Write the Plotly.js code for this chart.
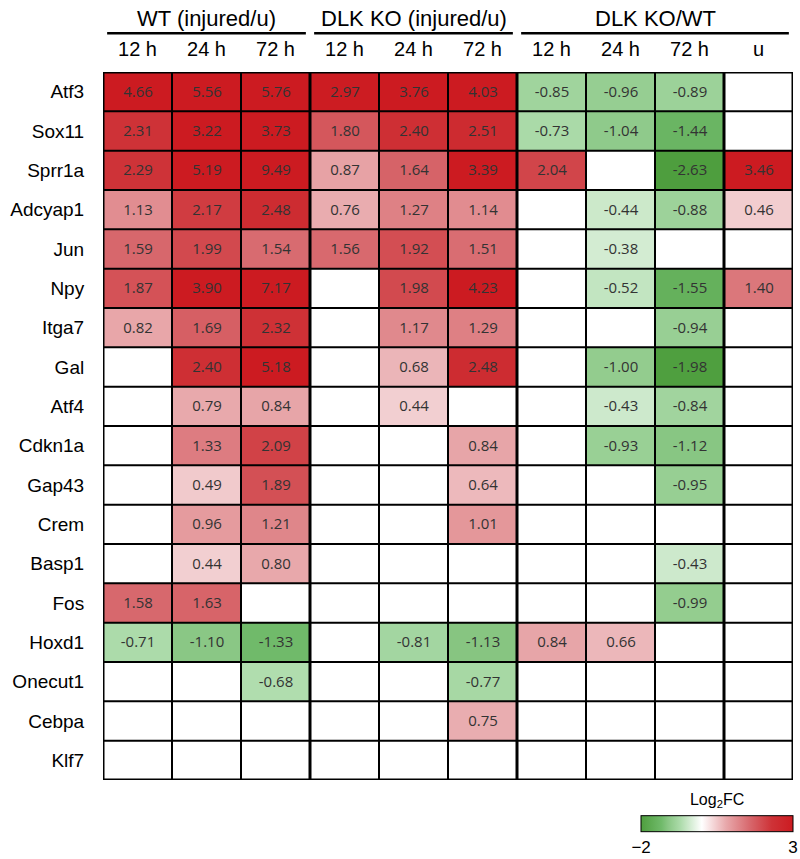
<!DOCTYPE html>
<html>
<head>
<meta charset="utf-8">
<script src="https://cdn.plot.ly/plotly-3.0.1.min.js"></script>
<style>body{margin:0;background:#fff}</style>
</head>
<body>
<div id="chart" style="width:800px;height:859px"></div>
<script>
var genes = ['Atf3','Sox11','Sprr1a','Adcyap1','Jun','Npy','Itga7','Gal','Atf4','Cdkn1a',
             'Gap43','Crem','Basp1','Fos','Hoxd1','Onecut1','Cebpa','Klf7'];
var timeLabels = ['12 h','24 h','72 h','12 h','24 h','72 h','12 h','24 h','72 h','u'];
var groupNames = ['WT (injured/u)','DLK KO (injured/u)','DLK KO/WT'];
var groupStart = [0, 3, 6];
var groupEnd = [2, 5, 9];

// log2 fold change, null = not significant (blank cell)
var wt = [
  [4.66,5.56,5.76],[2.31,3.22,3.73],[2.29,5.19,9.49],[1.13,2.17,2.48],[1.59,1.99,1.54],
  [1.87,3.90,7.17],[0.82,1.69,2.32],[null,2.40,5.18],[null,0.79,0.84],[null,1.33,2.09],
  [null,0.49,1.89],[null,0.96,1.21],[null,0.44,0.80],[1.58,1.63,null],[-0.71,-1.10,-1.33],
  [null,null,-0.68],[null,null,null],[null,null,null]
];
var ko = [
  [2.97,3.76,4.03],[1.80,2.40,2.51],[0.87,1.64,3.39],[0.76,1.27,1.14],[1.56,1.92,1.51],
  [null,1.98,4.23],[null,1.17,1.29],[null,0.68,2.48],[null,0.44,null],[null,null,0.84],
  [null,null,0.64],[null,null,1.01],[null,null,null],[null,null,null],[null,-0.81,-1.13],
  [null,null,-0.77],[null,null,0.75],[null,null,null]
];
var koVsWt = [
  [-0.85,-0.96,-0.89,null],[-0.73,-1.04,-1.44,null],[2.04,null,-2.63,3.46],[null,-0.44,-0.88,0.46],
  [null,-0.38,null,null],[null,-0.52,-1.55,1.40],[null,null,-0.94,null],[null,-1.00,-1.98,null],
  [null,-0.43,-0.84,null],[null,-0.93,-1.12,null],[null,null,-0.95,null],[null,null,null,null],
  [null,null,-0.43,null],[null,null,-0.99,null],[0.84,0.66,null,null],[null,null,null,null],
  [null,null,null,null],[null,null,null,null]
];

var z = genes.map(function(g, i){ return wt[i].concat(ko[i], koVsWt[i]); });
var txt = z.map(function(r){ return r.map(function(v){ return v === null ? '' : v.toFixed(2); }); });
var xs = timeLabels.map(function(t, i){ return i; });
var ys = genes.map(function(g, i){ return i; });

var trace = {
  type: 'heatmap',
  x: xs, y: ys, z: z,
  text: txt,
  texttemplate: '%{text}',
  textfont: {family: 'Open Sans, Noto Sans, sans-serif', size: 15, color: '#333'},
  zmin: -2, zmax: 3,
  colorscale: [
    [0, 'rgb(78,158,62)'],
    [0.134, 'rgb(112,186,106)'],
    [0.18, 'rgb(138,199,133)'],
    [0.258, 'rgb(172,219,170)'],
    [0.4, 'rgb(255,255,255)'],
    [0.56, 'rgb(232,168,171)'],
    [0.72, 'rgb(215,102,107)'],
    [0.86, 'rgb(206,50,55)'],
    [1, 'rgb(204,27,33)']
  ],
  hoverongaps: false,
  colorbar: {
    orientation: 'h',
    x: 0.89, xanchor: 'center',
    y: -0.062, yanchor: 'middle',
    lenmode: 'pixels', len: 152,
    thickness: 16,
    outlinecolor: '#000', outlinewidth: 1,
    tickvals: [-2, 3], ticktext: ['\u22122', '3'],
    ticks: '',
    tickfont: {family: 'Liberation Sans, Arial, sans-serif', size: 17, color: '#000'},
    title: {text: 'Log<sub>2</sub>FC', side: 'top',
            font: {family: 'Liberation Sans, Arial, sans-serif', size: 16, color: '#000'}},
    xpad: 0, ypad: 0
  }
};

var shapes = [];
// vertical grid lines
for (var i = 0; i <= timeLabels.length; i++) {
  var thick = (i === 0 || i === timeLabels.length || i === 3 || i === 6 || i === 9);
  shapes.push({type: 'line', xref: 'x', yref: 'y', x0: i - 0.5, x1: i - 0.5,
               y0: -0.5, y1: genes.length - 0.5, line: {color: '#000', width: thick ? 3 : 2}});
}
// horizontal grid lines
for (var j = 0; j <= genes.length; j++) {
  var outer = (j === 0 || j === genes.length);
  shapes.push({type: 'line', xref: 'x', yref: 'y', x0: -0.5, x1: timeLabels.length - 0.5,
               y0: j - 0.5, y1: j - 0.5, line: {color: '#000', width: outer ? 3 : 2}});
}
// group underlines and titles
var annotations = [];
groupNames.forEach(function(name, k){
  shapes.push({type: 'line', xref: 'x', yref: 'paper', x0: groupStart[k] - 0.44, x1: groupEnd[k] + 0.44,
               y0: 1.0547, y1: 1.0547, line: {color: '#000', width: 2.5}});
  annotations.push({text: name, xref: 'x', yref: 'paper', x: (groupStart[k] + groupEnd[k]) / 2,
                    y: 1.0757, yanchor: 'middle', showarrow: false,
                    font: {family: 'Liberation Sans, Arial, sans-serif', size: 22, color: '#000'}});
});

var layout = {
  width: 800, height: 859,
  margin: {l: 103, r: 7, t: 72, b: 74},
  paper_bgcolor: '#fff', plot_bgcolor: '#fff',
  xaxis: {
    side: 'top', tickvals: xs, ticktext: timeLabels,
    range: [-0.5, timeLabels.length - 0.5],
    showgrid: false, zeroline: false, showline: false,
    ticks: 'outside', ticklen: 7, tickcolor: 'rgba(0,0,0,0)',
    tickfont: {family: 'Liberation Sans, Arial, sans-serif', size: 20, color: '#000'}
  },
  yaxis: {
    tickvals: ys, ticktext: genes,
    range: [genes.length - 0.5, -0.5],
    showgrid: false, zeroline: false, showline: false,
    ticks: 'outside', ticklen: 14, tickcolor: 'rgba(0,0,0,0)',
    tickfont: {family: 'Liberation Sans, Arial, sans-serif', size: 19, color: '#000'}
  },
  shapes: shapes,
  annotations: annotations,
  showlegend: false
};

Plotly.newPlot('chart', [trace], layout, {displayModeBar: false, staticPlot: true});
</script>
</body>
</html>
